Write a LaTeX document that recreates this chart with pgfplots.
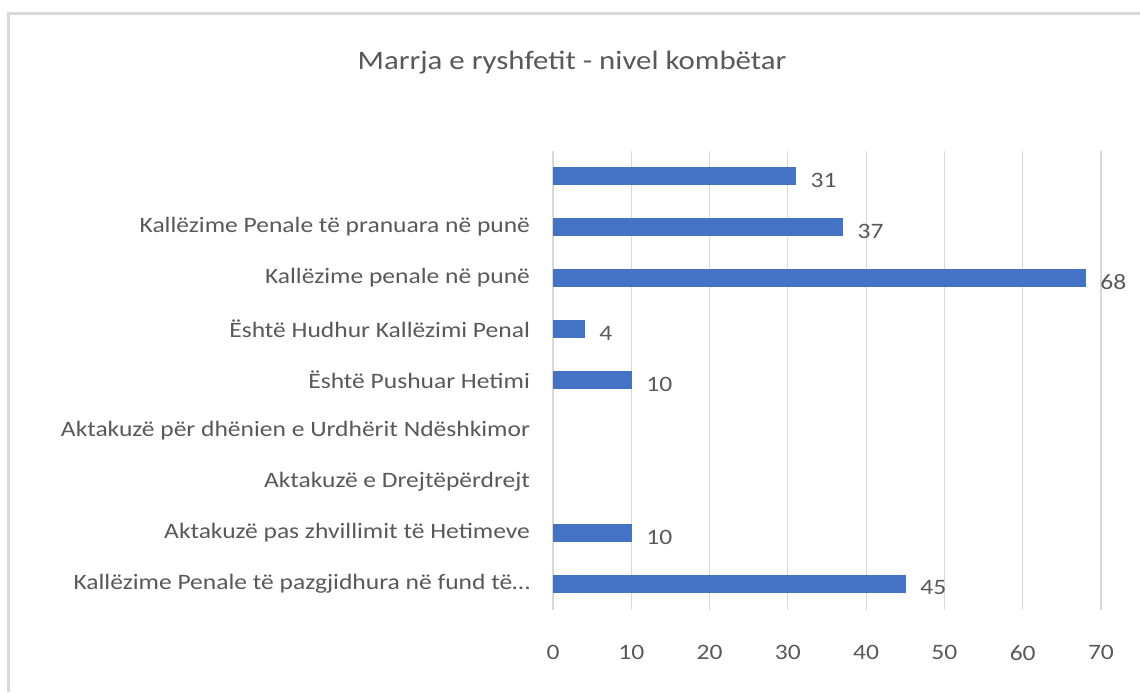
\documentclass[border=0pt]{standalone}
\usepackage{fontspec}
\setmainfont{Carlito}[FakeStretch=1.16]
\usepackage{pgfplots}
\pgfplotsset{compat=1.18}
\definecolor{barblue}{HTML}{4472C4}
\definecolor{txtgray}{HTML}{595959}
\definecolor{gridgray}{HTML}{D9D9D9}
\definecolor{framegray}{HTML}{D9D9D9}
\begin{document}
\begin{tikzpicture}[x=0.5pt,y=0.5pt]
\useasboundingbox (0,0) rectangle (1140,692);
\fill[white] (0,0) rectangle (1140,692);
\draw[framegray,line width=1.5pt] (8,0) -- (8,678) -- (1140,678);
\node[txtgray,font=\fontsize{13.3}{16}\selectfont] at (572,629) {Marrja e ryshfetit - nivel kombëtar};
\begin{axis}[
  at={(276.5pt,41.25pt)}, anchor=south west,
  scale only axis, width=274pt, height=229.5pt,
  xmin=0, xmax=70, ymin=-0.5, ymax=8.5,
  xtick={0,10,...,70},
  ytick={0,...,8},
  yticklabels={Kallëzime Penale të pazgjidhura në fund të…,Aktakuzë pas zhvillimit të Hetimeve,Aktakuzë e Drejtëpërdrejt,Aktakuzë për dhënien e Urdhërit Ndëshkimor,Është Pushuar Hetimi,Është Hudhur Kallëzimi Penal,Kallëzime penale në punë,Kallëzime Penale të pranuara në punë,{}},
  axis line style={draw=none},
  major tick length=0pt,
  xmajorgrids, grid style={gridgray,line width=0.6pt},
  tick label style={txtgray,font=\fontsize{11}{13}\selectfont},
  /pgf/number format/assume math mode=true,
  xticklabel style={yshift=-14.5pt},
  yticklabel style={xshift=-8pt},
  xbar, bar width=8.5pt,
  nodes near coords,
  nodes near coords style={txtgray,font=\fontsize{11}{13}\selectfont,anchor=west,xshift=4pt,yshift=-2pt},
]
\addplot[fill=barblue,draw=barblue] coordinates {(45,0) (10,1) (10,4) (4,5) (68,6) (37,7) (31,8)};
\end{axis}
\end{tikzpicture}
\end{document}
